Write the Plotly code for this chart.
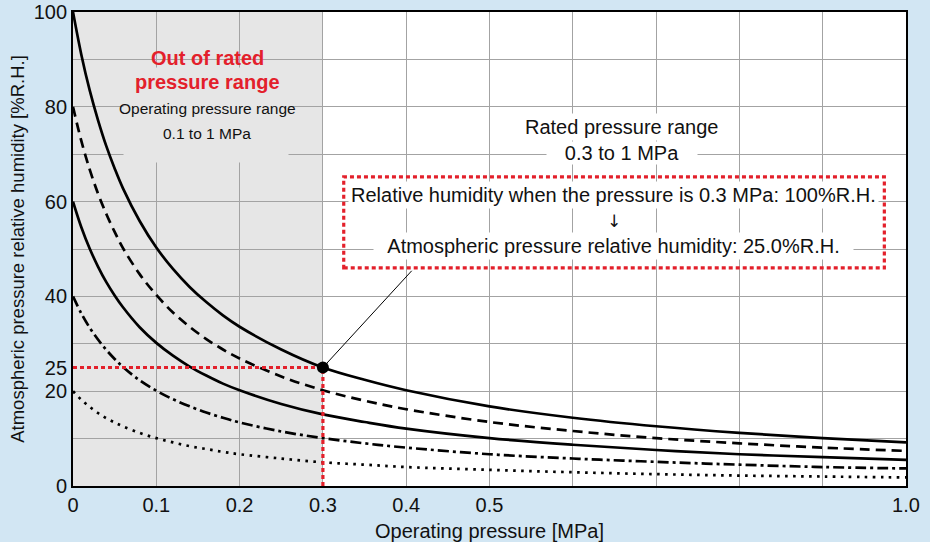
import plotly.graph_objects as go

# ---- data ----
pressure = [0, 0.01, 0.02, 0.03, 0.04, 0.05, 0.06, 0.08, 0.1, 0.12, 0.14, 0.16,
            0.18, 0.2, 0.25, 0.3, 0.35, 0.4, 0.5, 0.6, 0.7, 0.8, 0.9, 1.0]
rh100 = [100, 91.0, 83.5, 77.2, 71.7, 67.0, 62.8, 55.9, 50.3, 45.8, 42.0, 38.8,
         36.0, 33.6, 28.8, 25.0, 22.4, 20.2, 16.8, 14.4, 12.6, 11.2, 10.1, 9.2]
rh80 = [80, 72.8, 66.8, 61.7, 57.4, 53.6, 50.2, 44.7, 40.3, 36.6, 33.6, 31.0,
        28.8, 26.9, 23.1, 20.2, 18.0, 16.2, 13.5, 11.6, 10.1, 9.0, 8.1, 7.4]
rh60 = [60, 54.6, 50.1, 46.3, 43.0, 40.2, 37.7, 33.5, 30.2, 27.5, 25.2, 23.3,
        21.6, 20.2, 17.3, 15.1, 13.5, 12.1, 10.1, 8.7, 7.6, 6.7, 6.1, 5.5]
rh40 = [40, 36.4, 33.4, 30.9, 28.7, 26.8, 25.1, 22.3, 20.1, 18.3, 16.8, 15.5,
        14.4, 13.4, 11.5, 10.1, 9.0, 8.1, 6.7, 5.8, 5.1, 4.5, 4.0, 3.7]
rh20 = [20, 18.2, 16.7, 15.4, 14.3, 13.4, 12.6, 11.2, 10.1, 9.2, 8.4, 7.8,
        7.2, 6.7, 5.8, 5.0, 4.5, 4.0, 3.4, 2.9, 2.5, 2.2, 2.0, 1.8]

rated_p = [0.3]
rated_rh = [25.0]
leader_x = [0.3, 0.4066]
leader_y = [25.0, 45.4]

x_tickvals = [0, 0.1, 0.2, 0.3, 0.4, 0.5, 1.0]
x_ticktext = ["0", "0.1", "0.2", "0.3", "0.4", "0.5", "1.0"]
y_tickvals = [0, 20, 25, 40, 60, 80, 100]
y_ticktext = ["0", "20", "25", "40", "60", "80", "100"]

FONT = "Liberation Sans, Arial, Helvetica, sans-serif"
RED = "#e3202b"
GRAYFILL = "#e6e6e6"
BG = "#d2e6f3"

fig = go.Figure()

styles = [
    (rh100, "solid"),
    (rh80, "10px,6px"),
    (rh60, "solid"),
    (rh40, "11px,4px,3px,4px"),
    (rh20, "2.6px,5.4px"),
]
for ys, dash in styles:
    fig.add_trace(go.Scatter(
        x=pressure, y=ys, mode="lines",
        line=dict(color="black", width=2.7, dash=dash, shape="spline", smoothing=1),
        hoverinfo="skip", showlegend=False))

# red dotted guides
fig.add_trace(go.Scatter(
    x=[pressure[0], rated_p[0]], y=[rated_rh[0], rated_rh[0]], mode="lines",
    line=dict(color=RED, width=3.2, dash="4px,3px"), showlegend=False, hoverinfo="skip"))
fig.add_trace(go.Scatter(
    x=[rated_p[0], rated_p[0]], y=[0, rated_rh[0]], mode="lines",
    line=dict(color=RED, width=3.2, dash="4px,3px"), showlegend=False, hoverinfo="skip"))

# leader line
fig.add_trace(go.Scatter(
    x=leader_x, y=leader_y, mode="lines",
    line=dict(color="black", width=1), showlegend=False, hoverinfo="skip"))

# rated point
fig.add_trace(go.Scatter(
    x=rated_p, y=rated_rh, mode="markers",
    marker=dict(color="black", size=12), showlegend=False, hoverinfo="skip"))

# grey out-of-range region
fig.add_shape(type="rect", xref="x", yref="y", x0=0, x1=0.3, y0=0, y1=100,
              fillcolor=GRAYFILL, line=dict(width=0), layer="below")

# red dotted box
fig.add_shape(type="rect", xref="x", yref="y", x0=0.325, x1=0.974, y0=46.0, y1=65.2,
              fillcolor="rgba(0,0,0,0)", line=dict(color=RED, width=3.2, dash="4px,3px"),
              layer="above")

annotations = []
# grey background block behind out-of-range texts
annotations.append(dict(x=0.1595, y=78.3, xref="x", yref="y", text=" ", showarrow=False,
                        width=164, height=94, bgcolor=GRAYFILL, borderpad=0))
annotations.append(dict(x=0.161, y=90.3, xref="x", yref="y", text="<b>Out of rated</b>",
                        showarrow=False, font=dict(family=FONT, size=20, color=RED)))
annotations.append(dict(x=0.161, y=85.2, xref="x", yref="y", text="<b>pressure range</b>",
                        showarrow=False, font=dict(family=FONT, size=20, color=RED)))
annotations.append(dict(x=0.161, y=79.7, xref="x", yref="y", text="Operating pressure range",
                        showarrow=False, font=dict(family=FONT, size=15.5, color="#111")))
annotations.append(dict(x=0.161, y=74.4, xref="x", yref="y", text="0.1 to 1 MPa",
                        showarrow=False, font=dict(family=FONT, size=15.5, color="#111")))

# rated pressure range texts
annotations.append(dict(x=0.659, y=75.7, xref="x", yref="y", text="Rated pressure range",
                        showarrow=False, bgcolor="white", borderpad=2,
                        font=dict(family=FONT, size=20, color="#111")))
annotations.append(dict(x=0.659, y=70.2, xref="x", yref="y", text="0.3 to 1 MPa",
                        showarrow=False, bgcolor="white", width=150, borderpad=0,
                        font=dict(family=FONT, size=20, color="#111")))

# box texts
annotations.append(dict(x=0.649, y=61.3, xref="x", yref="y",
                        text="Relative humidity when the pressure is 0.3 MPa: 100%R.H.",
                        showarrow=False, bgcolor="white", borderpad=2,
                        font=dict(family=FONT, size=20, color="#111")))
annotations.append(dict(x=0.649, y=56.0, xref="x", yref="y", text="↓",
                        showarrow=False,
                        font=dict(family="DejaVu Sans, sans-serif", size=17, color="#111")))
annotations.append(dict(x=0.649, y=50.7, xref="x", yref="y",
                        text="Atmospheric pressure relative humidity: 25.0%R.H.",
                        showarrow=False, bgcolor="white", width=475, borderpad=2,
                        font=dict(family=FONT, size=20, color="#111")))

fig.update_layout(
    width=930, height=542,
    margin=dict(l=73, r=24, t=12, b=56, autoexpand=False),
    paper_bgcolor=BG,
    plot_bgcolor="white",
    font=dict(family=FONT, size=20, color="#111"),
    annotations=annotations,
    showlegend=False,
)

fig.update_xaxes(
    range=[0, 1.0], tickvals=x_tickvals, ticktext=x_ticktext,
    showgrid=False, zeroline=False, automargin=False,
    minor=dict(dtick=0.1, tick0=0, showgrid=True, gridcolor="#a3a3a3", gridwidth=1),
    showline=True, linecolor="black", linewidth=1.8, mirror=True,
    ticks="", tickfont=dict(size=20, color="#111"),
    title=dict(text="Operating pressure [MPa]", font=dict(size=20, color="#111"), standoff=10),
)
fig.update_yaxes(
    range=[0, 100], tickvals=y_tickvals, ticktext=y_ticktext,
    showgrid=False, zeroline=False, automargin=False,
    minor=dict(dtick=10, tick0=0, showgrid=True, gridcolor="#a3a3a3", gridwidth=1),
    showline=True, linecolor="black", linewidth=1.8, mirror=True,
    ticks="", tickfont=dict(size=20, color="#111"),
    title=dict(text="Atmospheric pressure relative humidity [%R.H.]",
               font=dict(size=18.5, color="#111"), standoff=4),
)

fig.write_html(
    "out.html",
    config={"displayModeBar": False},
    post_script="document.body.style.margin='0';document.body.style.padding='0';"
                "document.body.style.background='" + BG + "';"
                "document.body.style.overflow='hidden';",
)
